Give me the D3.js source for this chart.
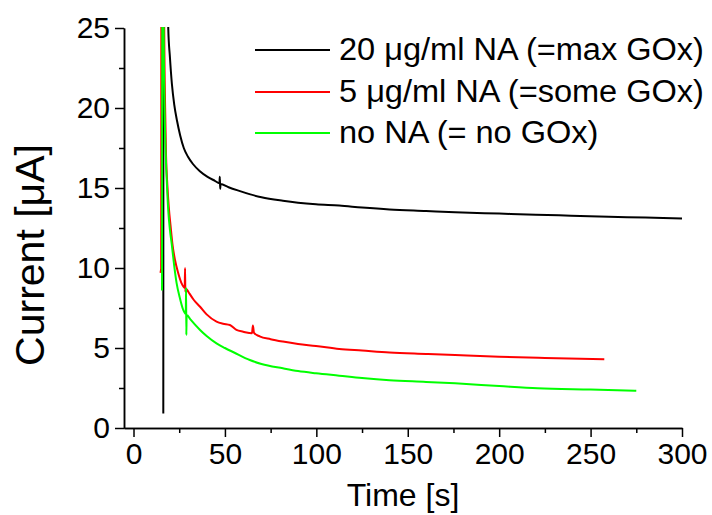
<!DOCTYPE html>
<html>
<head>
<meta charset="utf-8">
<script src="https://cdn.jsdelivr.net/npm/d3@7/dist/d3.min.js"></script>
<style>
  html, body { margin: 0; padding: 0; background: #fff; }
  svg { display: block; }
  text { font-family: "Liberation Sans", Arial, Helvetica, sans-serif; fill: #000; }
</style>
</head>
<body>
<svg id="chart" width="712" height="515"></svg>
<script>
// Chronoamperometry traces: time [s], current [µA]
const seriesNames = [
  "20 \u03bcg/ml NA (=max GOx)",
  "5 \u03bcg/ml NA (=some GOx)",
  "no NA (= no GOx)"
];
const seriesColors = ["#000000", "#ff0000", "#00ff00"];

// values above 25 µA leave the plotted range and are clipped
const maxGOx = [
  [16.3, 0.9], [16.4, 40], [18.0, 40], [19.0, 25.0], [19.9, 23.2], [21.0, 21.5],
  [22.3, 20.2], [23.8, 19.2], [25.5, 18.3], [27.5, 17.5], [29.8, 16.95], [32.5, 16.5],
  [36.3, 16.05], [40.5, 15.7], [44.5, 15.45], [47.0, 15.3], [47.2, 15.7], [47.4, 14.95],
  [47.6, 15.25], [52.0, 15.05], [57.0, 14.85], [63.9, 14.6], [70.0, 14.42], [81.7, 14.2],
  [90.0, 14.08], [99.8, 13.98], [112.5, 13.9], [125.0, 13.78], [140.0, 13.66],
  [160.0, 13.56], [175.9, 13.48], [200.0, 13.4], [220.0, 13.33], [239.3, 13.27],
  [260.0, 13.2], [280.0, 13.15], [300.0, 13.1]
];

const someGOx = [
  [14.7, 9.7], [15.1, 9.95], [15.3, 40], [16.3, 40], [16.8, 25.0], [17.3, 20.0],
  [17.8, 17.0], [18.5, 15.2], [19.3, 13.8], [20.3, 12.6], [21.4, 11.4], [22.7, 10.5],
  [24.4, 9.7], [26.3, 9.04], [28.0, 8.75], [28.2, 10.0], [28.35, 8.5], [28.5, 8.72],
  [29.5, 8.6], [30.5, 8.42], [33.0, 8.0], [36.4, 7.58], [40.0, 7.1], [45.4, 6.65],
  [49.0, 6.52], [52.7, 6.44], [56.3, 6.13], [60.0, 6.02], [64.8, 5.92], [65.3, 6.4],
  [65.9, 5.95], [69.0, 5.73], [75.0, 5.55], [81.7, 5.4], [90.0, 5.25], [99.8, 5.13],
  [112.5, 4.94], [125.0, 4.84], [140.0, 4.72], [160.0, 4.63], [175.9, 4.56],
  [200.0, 4.46], [225.0, 4.38], [257.5, 4.29]
];

const noGOx = [
  [15.6, 8.6], [15.8, 40], [16.1, 40], [16.5, 25.0], [17.0, 20.0], [17.5, 17.5],
  [18.1, 15.7], [19.0, 13.6], [19.9, 12.4], [20.9, 11.5], [22.2, 10.2], [23.6, 9.04],
  [25.3, 8.15], [27.2, 7.38], [28.6, 7.12], [28.75, 8.77], [28.9, 5.81], [29.05, 7.08],
  [31.0, 6.8], [36.4, 6.13], [40.0, 5.75], [45.4, 5.29], [50.0, 5.0], [55.0, 4.72],
  [63.6, 4.25], [70.0, 4.0], [81.7, 3.73], [90.0, 3.56], [99.8, 3.42], [112.5, 3.27],
  [125.0, 3.12], [140.0, 2.98], [160.0, 2.88], [175.9, 2.79], [200.0, 2.62],
  [221.0, 2.48], [250.0, 2.4], [275.0, 2.33]
];

const xMajorTicks = [0, 50, 100, 150, 200, 250, 300];
const xMinorTicks = [25, 75, 125, 175, 225, 275];
const yMajorTicks = [0, 5, 10, 15, 20, 25];
const yMinorTicks = [2.5, 7.5, 12.5, 17.5, 22.5];

const traces = [maxGOx, someGOx, noGOx];

const svg = d3.select("#chart");
const plot = { left: 124, right: 682, top: 28, bottom: 428 };

const x = d3.scaleLinear().domain([-5.2, 300]).range([plot.left, plot.right]);
const y = d3.scaleLinear().domain([0, 25]).range([plot.bottom, plot.top]);

svg.append("defs").append("clipPath").attr("id", "plotArea")
  .append("rect")
  .attr("x", plot.left).attr("y", plot.top - 1)
  .attr("width", plot.right - plot.left + 2).attr("height", plot.bottom - plot.top + 1);

// data traces (black drawn first, green on top)
const lineGen = d3.line().x(d => x(d[0])).y(d => y(d[1])).curve(d3.curveMonotoneX);

const traceLayer = svg.append("g").attr("clip-path", "url(#plotArea)");
traces.forEach((data, i) => {
  traceLayer.append("path")
    .datum(data)
    .attr("fill", "none")
    .attr("stroke", seriesColors[i])
    .attr("stroke-width", 2)
    .attr("stroke-linejoin", "round")
    .attr("d", lineGen);
});

// axes
const tickFont = 30;
const xAxis = d3.axisBottom(x).tickValues(xMajorTicks).tickSize(9).tickPadding(6).tickSizeOuter(0);
const xMinor = d3.axisBottom(x).tickValues(xMinorTicks).tickSize(5).tickFormat("").tickSizeOuter(0);
const yAxis = d3.axisLeft(y).tickValues(yMajorTicks).tickSize(9).tickPadding(5).tickSizeOuter(0);
const yMinor = d3.axisLeft(y).tickValues(yMinorTicks).tickSize(5).tickFormat("").tickSizeOuter(0);

function styleAxis(g) {
  g.select(".domain").attr("stroke", "#000").attr("stroke-width", 1.5);
  g.selectAll(".tick line").attr("stroke", "#000").attr("stroke-width", 1.5);
  g.selectAll(".tick text")
    .style("font-family", "'Liberation Sans', Arial, Helvetica, sans-serif")
    .style("font-size", tickFont + "px")
    .attr("fill", "#000");
}

svg.append("g").attr("transform", `translate(0,${plot.bottom})`).call(xMinor).call(styleAxis);
svg.append("g").attr("transform", `translate(0,${plot.bottom})`).call(xAxis).call(styleAxis);
svg.append("g").attr("transform", `translate(${plot.left},0)`).call(yMinor).call(styleAxis);
svg.append("g").attr("transform", `translate(${plot.left},0)`).call(yAxis).call(styleAxis);

// axis titles
svg.append("text")
  .attr("x", 403).attr("y", 506)
  .attr("text-anchor", "middle")
  .style("font-size", "32px")
  .text("Time [s]");

svg.append("text")
  .attr("transform", "translate(44,255) rotate(-90)")
  .attr("text-anchor", "middle")
  .style("font-size", "41px")
  .text("Current [\u03bcA]");

// legend
const legendRows = [50, 92, 133];
const legend = svg.append("g");
seriesNames.forEach((name, i) => {
  legend.append("line")
    .attr("x1", 255).attr("x2", 330)
    .attr("y1", legendRows[i]).attr("y2", legendRows[i])
    .attr("stroke", seriesColors[i]).attr("stroke-width", 2);
  legend.append("text")
    .attr("transform", `translate(339,${legendRows[i] + 10}) scale(1.05,1)`)
    .style("font-size", "31px")
    .text(name);
});
</script>
</body>
</html>
